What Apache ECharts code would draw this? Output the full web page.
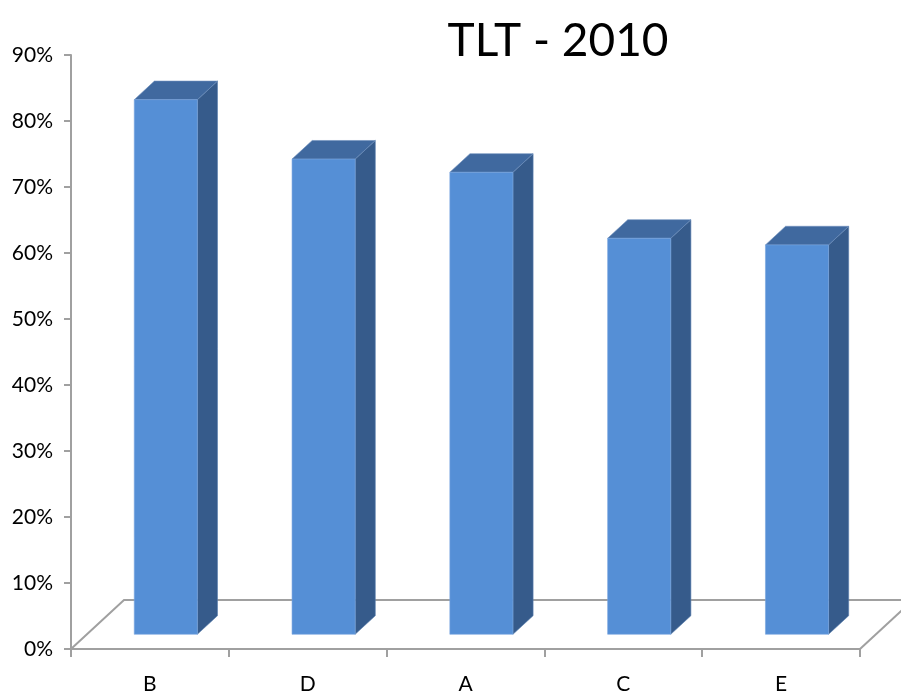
<!DOCTYPE html>
<html>
<head>
<meta charset="utf-8">
<script src="https://cdn.jsdelivr.net/npm/echarts@6/dist/echarts.min.js"></script>
<style>
  html, body { margin: 0; padding: 0; background: #fff; }
  #chart { width: 901px; height: 696px; }
</style>
</head>
<body>
<div id="chart"></div>
<script>
// data
var categories = ['B', 'D', 'A', 'C', 'E'];
var values = [81, 72, 70, 60, 59];
var yTicks = [0, 10, 20, 30, 40, 50, 60, 70, 80, 90];

// 3d look
var FLOOR_DX = 53, FLOOR_DY = 49;   // depth of the floor
var FRONT = 0.3, BACK = 0.68;       // bar front / back as part of the depth
var FONT = 'Lato';

var chart = echarts.init(document.getElementById('chart'));

function renderFloor(params, api) {
  var cs = params.coordSys;
  var x0 = cs.x, x1 = cs.x + cs.width, y0 = cs.y + cs.height;
  var st = {stroke: '#a0a0a0', lineWidth: 2, fill: null};
  return {
    type: 'group',
    children: [
      {type: 'polyline', shape: {points: [[x0, y0], [x0 + FLOOR_DX, y0 - FLOOR_DY], [x1 + FLOOR_DX, y0 - FLOOR_DY]]}, style: st},
      {type: 'line', shape: {x1: x1, y1: y0, x2: x1 + FLOOR_DX, y2: y0 - FLOOR_DY}, style: st}
    ]
  };
}

function renderBar(params, api) {
  var i = api.value(0);
  var base = api.coord([i, 0]);
  var top = api.coord([i, api.value(1)]);
  var w = api.size([1, 0])[0] * 0.4;
  var fx = FLOOR_DX * FRONT, fy = FLOOR_DY * FRONT;
  var bx = FLOOR_DX * (BACK - FRONT), by = FLOOR_DY * (BACK - FRONT);
  var xl = base[0] - w / 2 + fx, xr = base[0] + w / 2 + fx;
  var yb = base[1] - fy, yt = top[1] - fy;
  return {
    type: 'group',
    children: [
      {type: 'polygon', shape: {points: [[xr, yt], [xr + bx, yt - by], [xr + bx, yb - by], [xr, yb]]},
        style: {fill: '#365b8b', stroke: '#5b7fae', lineWidth: 0.6}},
      {type: 'polygon', shape: {points: [[xl, yt], [xl + bx, yt - by], [xr + bx, yt - by], [xr, yt]]},
        style: {fill: '#40699f', stroke: '#6d8fbc', lineWidth: 0.6}},
      {type: 'rect', shape: {x: xl, y: yt, width: w, height: yb - yt},
        style: {fill: '#558fd6', stroke: '#7aa6df', lineWidth: 0.6}}
    ]
  };
}

chart.setOption({
  animation: false,
  title: {
    text: 'TLT - 2010',
    left: 553,
    top: 13,
    textAlign: 'center',
    textStyle: {fontFamily: FONT, fontSize: 46, fontWeight: 'normal', color: '#000'}
  },
  grid: {left: 71, right: 41, top: 55, bottom: 47},
  xAxis: {
    type: 'category',
    data: categories,
    axisLine: {lineStyle: {color: '#a0a0a0', width: 2}},
    axisTick: {show: true, length: 8, lineStyle: {color: '#a0a0a0', width: 2}},
    axisLabel: {margin: 25, fontFamily: FONT, fontSize: 21, color: '#000'}
  },
  yAxis: {
    type: 'value',
    min: yTicks[0],
    max: yTicks[yTicks.length - 1],
    interval: 10,
    splitLine: {show: false},
    axisLine: {show: true, lineStyle: {color: '#a0a0a0', width: 2}},
    axisTick: {show: true, length: 7, lineStyle: {color: '#a0a0a0', width: 2}},
    axisLabel: {margin: 18, formatter: '{value}%', fontFamily: FONT, fontSize: 21, color: '#000'}
  },
  series: [
    {type: 'custom', renderItem: renderFloor, data: [[0, 0]], clip: false, silent: true, z: 1},
    {
      type: 'custom',
      renderItem: renderBar,
      data: values.map(function (v, i) { return [i, v]; }),
      encode: {x: 0, y: 1},
      clip: false,
      z: 2
    }
  ]
});
</script>
</body>
</html>
